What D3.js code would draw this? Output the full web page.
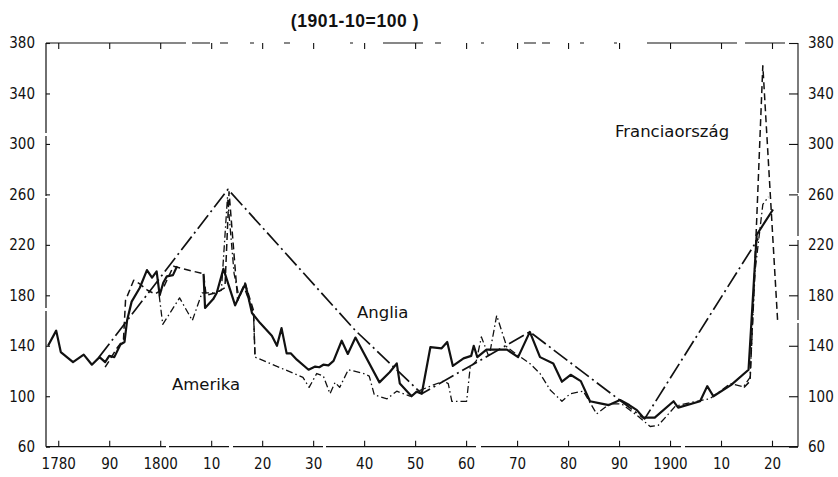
<!DOCTYPE html>
<html>
<head>
<meta charset="utf-8">
<script src="https://cdn.jsdelivr.net/npm/d3@7"></script>
<style>
  body { margin: 0; background: #fff; }
  svg { display: block; }
  .tick-label { font-family: "DejaVu Sans Condensed", "DejaVu Sans", sans-serif; font-stretch: condensed; font-size: 15px; fill: #111; }
  .series-label { font-family: "DejaVu Sans", sans-serif; font-size: 16.5px; fill: #111; }
</style>
</head>
<body>
<svg id="chart" width="838" height="477"></svg>
<script>
"use strict";

// ticks
var xTicks = [1780, 1790, 1800, 1810, 1820, 1830, 1840, 1850, 1860, 1870, 1880, 1890, 1900, 1910, 1920];
var xTickLabels = ["1780", "90", "1800", "10", "20", "30", "40", "50", "60", "70", "80", "90", "1900", "10", "20"];
var yTicks = [60, 100, 140, 180, 220, 260, 300, 340, 380];

// solid line, yearly values [year, index]; null = break in the drawing
var anglia = [
  [1778, 140], [1779.6, 152], [1780.5, 135], [1782.9, 127], [1785, 133], [1786.6, 125],
  [1788.1, 131], [1789.2, 127], [1790, 132], [1791, 131], [1792.2, 141], [1793, 143],
  [1793.5, 160], [1794.4, 175], [1796, 186], [1797.4, 200], [1798.4, 194], [1799.3, 199],
  [1799.9, 180], [1800.6, 190], [1801.3, 195], [1802.5, 196], [1803.3, 203], [1803.4, null],
  [1808.5, 197], [1808.8, 170], [1810.4, 177], [1811.1, 182], [1812.4, 201], [1814.7, 172],
  [1815.7, 181], [1816.7, 189], [1818, 166], [1819.6, 158], [1821.9, 148], [1822.9, 140],
  [1823.8, 154], [1824.8, 134], [1825.6, 134], [1826.8, 129], [1829.1, 121], [1830.4, 123.5],
  [1831.2, 123], [1832, 125], [1833, 124.5], [1834, 128], [1835.6, 144], [1836.8, 133.5],
  [1838.3, 146.5], [1843, 111], [1845, 119], [1846.4, 126], [1847, 110], [1849.3, 100],
  [1850.3, 103.6], [1851.3, 102], [1853, 139], [1855.2, 138], [1856.3, 143], [1857.4, 124],
  [1859.5, 130], [1861, 132], [1861.5, 140], [1862.2, 131], [1864, 137], [1866, 137],
  [1868, 137], [1870.2, 131], [1872.5, 151], [1874.5, 131], [1877.1, 126], [1878.8, 111.5],
  [1880.5, 117], [1882.5, 112], [1884.3, 96], [1886.3, 94.4], [1888, 93], [1890.2, 97],
  [1892, 93], [1893.5, 89], [1894.8, 83], [1897, 83], [1900.7, 96], [1901.6, 91],
  [1905.9, 96], [1907.3, 108], [1908.5, 100], [1912, 109], [1915.4, 121], [1917, 228],
  [1920.2, 248]
];

// dash-dot line
var amerika = [
  [1799.8, 180], [1800.5, 157], [1803.8, 178], [1806.3, 160], [1808.2, 182], [1810.5, 182],
  [1812, 184], [1813.2, 258], [1814.5, 197], [1815.5, 178], [1816.4, 187], [1818.3, 166],
  [1818.6, 131], [1828, 115], [1829.2, 107], [1830.7, 118], [1832, 116], [1833.3, 102],
  [1834.3, 111], [1835.2, 107], [1836.9, 121], [1839.9, 118], [1841, 116], [1842, 101],
  [1844.5, 98], [1846.4, 104], [1849, 100], [1850.6, 104], [1853, 108], [1855.6, 112],
  [1856.5, 110], [1857.2, 96], [1860.1, 96], [1860.8, 123], [1862, 128], [1863, 147],
  [1864.5, 131], [1866, 164], [1868, 139], [1870, 133], [1872.5, 126], [1874.5, 118],
  [1876.5, 105], [1878.8, 96], [1880.4, 102], [1883, 104], [1885.6, 86], [1886.9, 90],
  [1888.2, 94], [1890.5, 94], [1893.8, 84], [1896.1, 76], [1897.7, 77], [1899.7, 86],
  [1901, 92], [1904, 95], [1907.8, 98], [1909.2, 102], [1911.8, 110], [1914.4, 107.5],
  [1915.7, 115], [1916.7, 200], [1918.2, 252], [1919.3, 258]
];

// dashed line
var franciaorszag = [
  [1789.2, 123], [1791.5, 138], [1792.8, 145], [1793.2, 176], [1794.8, 192], [1796, 189],
  [1797.5, 184], [1799, 181], [1800.5, 185], [1802.6, 203], [1808.5, 197], [1809, 180],
  [1811, 182], [1812.7, 186], [1813.5, 262], [1815.2, 176], [1816.6, 190], [1818.3, 168],
  [1818.6, 131], [1818.7, null],
  [1914.5, 107], [1915.7, 112], [1917, 240], [1918.2, 362], [1921.1, 160]
];

// long dash-dot line through the turning points
var csucsok = [
  [1788, 131], [1813.3, 264], [1838.3, 152], [1851.3, 102], [1872.5, 151], [1895, 82],
  [1917.3, 225]
];

var graph = {};
graph.svg = d3.select("#chart");
graph.width = +graph.svg.attr("width");
graph.height = +graph.svg.attr("height");

graph.svg.append("rect")
  .attr("width", graph.width)
  .attr("height", graph.height)
  .attr("fill", "#fff");

var plane = {
  left: 46,
  right: 798,
  top: 43,
  bottom: 446.7
};

plane.x = d3.scaleLinear()
  .domain([1777.6, 1925.1])
  .range([plane.left, plane.right]);

plane.y = d3.scaleLinear()
  .domain([60, 380])
  .range([plane.bottom, plane.top]);

var g = graph.svg.append("g");

// frame (the printed frame is broken in places)
g.append("line")
  .attr("x1", plane.left).attr("x2", plane.right)
  .attr("y1", plane.bottom).attr("y2", plane.bottom)
  .attr("stroke", "#111").attr("stroke-width", 1.3)
  .attr("stroke-dasharray", "120,3,60,4,90,3,150,5,200,4,400");
g.append("line")
  .attr("x1", plane.left).attr("x2", plane.right)
  .attr("y1", plane.top).attr("y2", plane.top)
  .attr("stroke", "#111").attr("stroke-width", 1.1)
  .attr("stroke-dasharray", "140,6,18,10,8,22,4,30,6,60,3,30,40,12,6,40,3,40,12,6,8,30,4,30,3,30,90,8,40");
g.append("line")
  .attr("x1", plane.left).attr("x2", plane.left)
  .attr("y1", plane.top).attr("y2", plane.bottom)
  .attr("stroke", "#111").attr("stroke-width", 1.2)
  .attr("stroke-dasharray", "90,3,60,2,110,3,200");
g.append("line")
  .attr("x1", plane.right).attr("x2", plane.right)
  .attr("y1", plane.top).attr("y2", plane.bottom)
  .attr("stroke", "#111").attr("stroke-width", 1.1)
  .attr("stroke-dasharray", "150,3,40,4,80,3,200");

// bottom axis (ticks inward) and top ticks
var xAxisBottom = d3.axisBottom(plane.x)
  .tickValues(xTicks)
  .tickSizeInner(-6)
  .tickSizeOuter(0)
  .tickPadding(12)
  .tickFormat(function(d, i) { return xTickLabels[i]; });

var gX = g.append("g")
  .attr("transform", "translate(0," + plane.bottom + ")")
  .call(xAxisBottom);

var xAxisTop = d3.axisTop(plane.x)
  .tickValues(xTicks)
  .tickSizeInner(-6)
  .tickSizeOuter(0)
  .tickFormat("");

var gXTop = g.append("g")
  .attr("transform", "translate(0," + plane.top + ")")
  .call(xAxisTop);

var yAxisLeft = d3.axisLeft(plane.y)
  .tickValues(yTicks)
  .tickSizeInner(-4)
  .tickSizeOuter(0)
  .tickPadding(11)
  .tickFormat(d3.format("d"));

var gY = g.append("g")
  .attr("transform", "translate(" + plane.left + ",0)")
  .call(yAxisLeft);

var yAxisRight = d3.axisRight(plane.y)
  .tickValues(yTicks)
  .tickSizeInner(-9)
  .tickSizeOuter(0)
  .tickPadding(10)
  .tickFormat(d3.format("d"));

var gYRight = g.append("g")
  .attr("transform", "translate(" + plane.right + ",0)")
  .call(yAxisRight);

[gX, gXTop, gY, gYRight].forEach(function(ax) {
  ax.select(".domain").remove();
  ax.selectAll(".tick line").attr("stroke", "#111").attr("stroke-width", 1.1);
  ax.selectAll(".tick text").attr("class", "tick-label").attr("font-family", null).attr("font-size", null);
});

// lines
var line = d3.line()
  .defined(function(d) { return d[1] != null; })
  .x(function(d) { return plane.x(d[0]); })
  .y(function(d) { return plane.y(d[1]); });

var seriesStyles = [
  { data: csucsok, width: 1.7, dash: "17,4,2,4" },
  { data: amerika, width: 1.3, dash: "7,3,1.5,3" },
  { data: franciaorszag, width: 1.5, dash: "7,4" },
  { data: anglia, width: 2.2, dash: null }
];

g.append("g")
  .selectAll("path")
  .data(seriesStyles)
  .enter()
  .append("path")
  .attr("d", function(d) { return line(d.data); })
  .attr("fill", "none")
  .attr("stroke", "#111")
  .attr("stroke-width", function(d) { return d.width; })
  .attr("stroke-linejoin", "round")
  .attr("stroke-dasharray", function(d) { return d.dash; });

// labels
g.append("text")
  .attr("class", "series-label")
  .attr("x", plane.x(1838.6))
  .attr("y", plane.y(162))
  .text("Anglia");

g.append("text")
  .attr("class", "series-label")
  .attr("x", plane.x(1802.3))
  .attr("y", plane.y(105))
  .text("Amerika");

g.append("text")
  .attr("class", "series-label")
  .attr("x", plane.x(1889.2))
  .attr("y", plane.y(305.5))
  .text("Franciaország");

// title
graph.svg.append("text")
  .attr("x", 355)
  .attr("y", 27)
  .attr("text-anchor", "middle")
  .attr("font-family", "Liberation Sans, sans-serif")
  .attr("font-weight", "bold")
  .attr("font-size", 17.5)
  .attr("letter-spacing", 0.6)
  .attr("fill", "#111")
  .text("(1901-10=100 )");
</script>
</body>
</html>
